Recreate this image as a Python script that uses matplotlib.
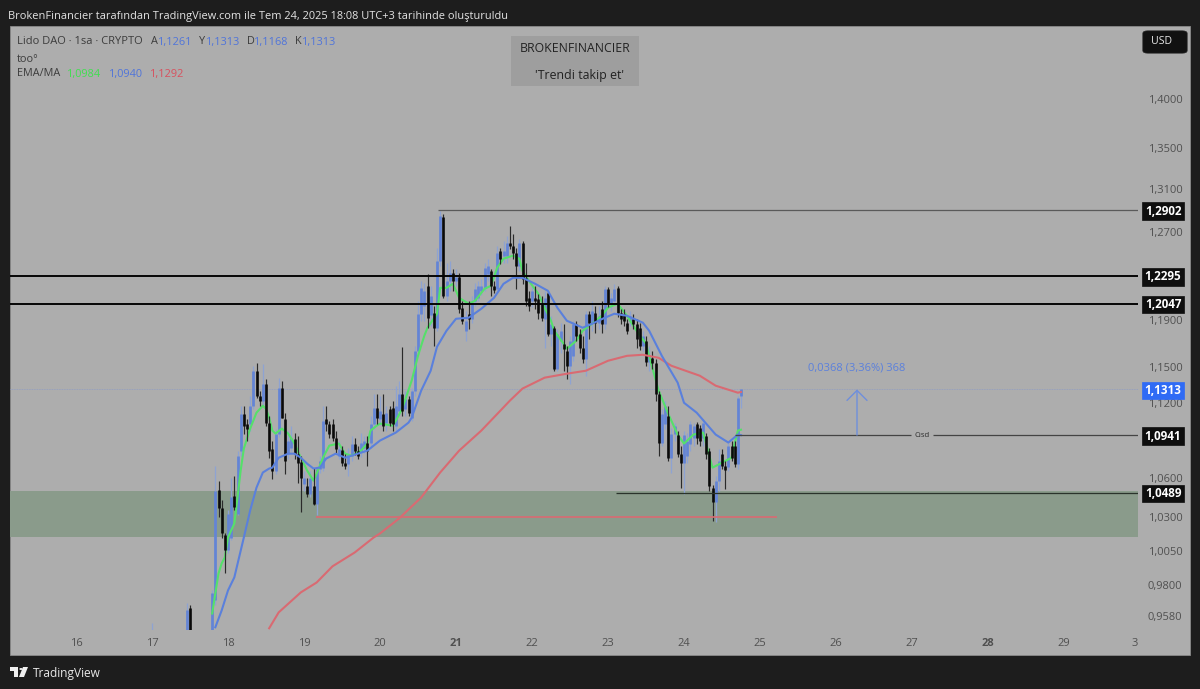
import numpy as np
import matplotlib
matplotlib.use("Agg")
import matplotlib.pyplot as plt
from matplotlib.patches import Rectangle, FancyBboxPatch, Polygon, Circle
from matplotlib.ticker import NullLocator, FixedLocator, FixedFormatter

plt.rcParams['font.family'] = ['Open Sans', 'DejaVu Sans']

W, H = 1200, 689
BG = '#1d1d1d'; PANE = '#adadad'; ZONE = '#8a9b8b'
UP = '#6384d6'; UPW = '#8ea3d2'; DOWN = '#0a0a0a'; DOWNW = '#2a2a2a'
EMA_C = '#55e06a'; MA_C = '#5a80dc'; RED_C = '#d96a72'; TICK_C = '#505050'

bar_hours = [-24, -13, -12, -5] + list(range(-4, 163))
opens = [.9414, .9414, .9636, .9414,
 .9693,1.0513,1.0368,1.0165,1.0054,1.0150,1.0467,1.0330,1.0817,1.1114,
 1.1033,1.1033,1.1179,1.1469,1.1261,1.1220,1.1361,1.1041,1.0833,1.0660,
 1.0953,1.1328,1.1073,1.0793,1.0841,1.0913,1.0793,1.0730,1.0559,1.0544,
 1.0482,1.0544,1.0406,1.0676,1.0683,1.1073,1.1033,1.1033,1.0921,1.0777,
 1.0825,1.0722,1.0714,1.0777,1.0873,1.0817,1.0817,1.0841,1.0881,1.0881,
 1.1033,1.1162,1.1073,1.1114,1.1041,1.1154,1.1162,1.1017,1.1138,1.1278,
 1.1154,1.1236,1.1081,1.1303,1.1638,1.1958,1.2028,1.2205,1.1949,1.1966,
 1.1836,1.2432,1.2839,1.2116,1.2250,1.2322,1.2250,1.2286,1.2011,1.1810,
 1.1958,1.1914,1.2072,1.2098,1.2161,1.2187,1.2313,1.2340,1.2205,1.2178,
 1.2523,1.2478,1.2478,1.2597,1.2569,1.2505,1.2386,1.2597,1.2277,1.2098,
 1.2072,1.2098,1.2089,1.2046,1.1914,1.2143,1.1784,1.1836,1.1486,1.1724,
 1.1698,1.1638,1.1511,1.1595,1.1871,1.1784,1.1664,1.1570,1.1958,1.1880,
 1.1966,1.1880,1.2002,1.1871,1.2178,1.2054,1.2072,1.2187,1.1966,1.1958,
 1.1880,1.1897,1.1914,1.1871,1.1836,1.1681,1.1724,1.1545,1.1578,1.1536,
 1.1278,1.0881,1.1033,1.1097,1.0761,1.0953,1.0945,1.0793,1.0722,1.0777,
 1.0873,1.0921,1.1033,1.1001,1.0921,1.0937,1.0817,1.0528,1.0414,1.0582,
 1.0793,1.0699,1.0691,1.0857,1.0857,1.0714,1.1261]
highs = [.9535, .9671, .9657, .9764,
 1.0699,1.0582,1.0429,1.0180,1.0353,1.0605,1.0621,1.0817,1.1179,1.1179,
 1.1073,1.1261,1.1511,1.1536,1.1303,1.1528,1.1403,1.1097,1.0897,1.0993,
 1.1411,1.1386,1.1122,1.0977,1.1017,1.0961,1.0937,1.0777,1.0660,1.0605,
 1.0660,1.0683,1.0699,1.0777,1.1179,1.1179,1.1057,1.1073,1.0977,1.0897,
 1.0857,1.0793,1.0841,1.0937,1.0921,1.0857,1.0961,1.0937,1.0937,1.1097,
 1.1278,1.1278,1.1261,1.1278,1.1179,1.1179,1.1220,1.1344,1.1386,1.1672,
 1.1303,1.1261,1.1328,1.1681,1.2072,1.2250,1.2232,1.2313,1.2205,1.2028,
 1.2551,1.2895,1.2867,1.2414,1.2432,1.2358,1.2358,1.2322,1.2072,1.1984,
 1.2072,1.2116,1.2232,1.2250,1.2268,1.2414,1.2451,1.2358,1.2250,1.2569,
 1.2551,1.2615,1.2661,1.2754,1.2680,1.2551,1.2634,1.2615,1.2414,1.2161,
 1.2205,1.2205,1.2134,1.2116,1.2161,1.2161,1.1940,1.1853,1.1827,1.1880,
 1.1871,1.1681,1.1767,1.1897,1.1897,1.1827,1.1767,1.1984,1.1984,1.2072,
 1.2028,1.2028,1.2072,1.2205,1.2196,1.2143,1.2223,1.2205,1.2002,1.2002,
 1.1914,1.1984,1.1958,1.1914,1.1880,1.1810,1.1767,1.1681,1.1638,1.1570,
 1.1303,1.1154,1.1220,1.1179,1.1001,1.1041,1.0977,1.0857,1.0977,1.0961,
 1.1057,1.1041,1.1049,1.1025,1.1073,1.0961,1.0841,1.0551,1.0621,1.0833,
 1.0833,1.0738,1.0881,1.0897,1.0897,1.1261,1.1313]
lows = [.9414, .9400, .9400, .9400,
 .9657,1.0300,1.0150,.9893,1.0039,1.0128,1.0353,1.0315,1.0777,1.0953,
 1.0897,1.0977,1.1154,1.1245,1.1179,1.1179,1.1017,1.0761,1.0598,1.0637,
 1.0929,1.1081,1.0637,1.0754,1.0817,1.0754,1.0567,1.0345,1.0505,1.0452,
 1.0452,1.0391,1.0315,1.0644,1.0660,1.0977,1.0921,1.0897,1.0801,1.0754,
 1.0699,1.0676,1.0621,1.0738,1.0785,1.0754,1.0769,1.0801,1.0699,1.0841,
 1.0993,1.1033,1.1025,1.0977,1.0977,1.1017,1.0977,1.0977,1.1097,1.1097,
 1.1097,1.1097,1.1057,1.1261,1.1595,1.1897,1.1897,1.1836,1.1853,1.1681,
 1.1810,1.2386,1.2098,1.2072,1.2161,1.2161,1.2205,1.1966,1.1871,1.1724,
 1.1827,1.1880,1.2028,1.2072,1.2125,1.2161,1.2250,1.2116,1.2143,1.2143,
 1.2405,1.2414,1.2414,1.2542,1.2450,1.2179,1.2340,1.2223,1.2028,1.1984,
 1.2019,1.2002,1.1914,1.1897,1.1664,1.1767,1.1681,1.1469,1.1469,1.1621,
 1.1469,1.1403,1.1361,1.1553,1.1724,1.1621,1.1536,1.1427,1.1741,1.1810,
 1.1793,1.1827,1.1793,1.1827,1.2019,1.1984,1.2037,1.1931,1.1871,1.1853,
 1.1784,1.1853,1.1827,1.1664,1.1647,1.1638,1.1511,1.1469,1.1486,1.1220,
 1.0777,1.0857,1.0993,1.0738,1.0644,1.0897,1.0769,1.0528,1.0482,1.0722,
 1.0817,1.0857,1.0873,1.0857,1.0857,1.0754,1.0505,1.0277,1.0263,1.0505,
 1.0676,1.0520,1.0660,1.0738,1.0691,1.0676,1.1162]
closes = [.9440, .9622, .9414, .9743,
 1.0505,1.0368,1.0180,1.0054,1.0330,1.0452,1.0376,1.0777,1.1114,1.1017,
 1.0993,1.1179,1.1469,1.1261,1.1220,1.1361,1.1041,1.0817,1.0660,1.0953,
 1.1328,1.1081,1.0738,1.0897,1.0921,1.0793,1.0722,1.0605,1.0605,1.0482,
 1.0605,1.0406,1.0676,1.0738,1.1057,1.1033,1.0953,1.0921,1.0833,1.0833,
 1.0722,1.0699,1.0793,1.0873,1.0817,1.0777,1.0881,1.0897,1.0817,1.1033,
 1.1162,1.1081,1.1138,1.1017,1.1122,1.1041,1.1033,1.1179,1.1278,1.1138,
 1.1236,1.1122,1.1303,1.1638,1.1958,1.2187,1.2161,1.1923,1.2116,1.1836,
 1.2432,1.2848,1.2116,1.2250,1.2322,1.2250,1.2286,1.2002,1.1897,1.1897,
 1.1914,1.2054,1.2178,1.2205,1.2205,1.2368,1.2386,1.2205,1.2170,1.2505,
 1.2450,1.2523,1.2597,1.2569,1.2505,1.2386,1.2597,1.2268,1.2072,1.2028,
 1.2161,1.2072,1.1966,1.1923,1.2098,1.1784,1.1871,1.1486,1.1784,1.1810,
 1.1655,1.1511,1.1724,1.1871,1.1767,1.1664,1.1570,1.1958,1.1880,1.1984,
 1.1880,1.1940,1.1871,1.2178,1.2054,1.2098,1.2178,1.1966,1.1914,1.1897,
 1.1810,1.1940,1.1871,1.1741,1.1681,1.1767,1.1545,1.1595,1.1536,1.1278,
 1.0881,1.1114,1.1179,1.0761,1.0953,1.1017,1.0793,1.0722,1.0945,1.0897,
 1.1033,1.1017,1.0921,1.0897,1.1041,1.0793,1.0544,1.0414,1.0582,1.0738,
 1.0699,1.0668,1.0857,1.0761,1.0714,1.1245,1.1313]

ema_hours = [-5,-3,-2,-1,0,2,3,4,5,7,9,11,12,13,14,15,17,19,21,23,25,27,28,30,32,35,37,39,42,44,45,47,48,52,53,55,58,60,62,63,66,67,69,71,73,76,78,81,83,85,87,90,92,93,95,98,100,102,103,106,107,110,112,115,118,120,123,126,129,132,134,136,139,142,144,147,150,151,153,156,159,160,161,162]
ema_vals = [.9600,.9886,.9959,1.0003,1.0150,1.0255,1.0452,1.0660,1.0833,1.0993,1.1122,1.1179,1.1154,1.1081,1.0977,1.0953,1.0993,1.0953,1.0873,1.0761,1.0660,1.0582,1.0637,1.0761,1.0857,1.0873,1.0793,1.0777,1.0817,1.0873,1.0977,1.1017,1.1033,1.1017,1.1057,1.1154,1.1386,1.1595,1.1767,1.1836,1.1958,1.2187,1.2187,1.2223,1.2098,1.2046,1.2072,1.2178,1.2205,1.2368,1.2450,1.2478,1.2450,1.2340,1.2250,1.2134,1.2011,1.1897,1.1810,1.1698,1.1655,1.1724,1.1810,1.1871,1.1940,1.2011,1.2046,1.1940,1.1810,1.1698,1.1494,1.1303,1.1114,1.0945,1.0873,1.0945,1.0961,1.0873,1.0683,1.0722,1.0761,1.0873,1.0977,1.0984]
ma_hours = [-4,-2,0,2,5,7,9,11,13,14,16,19,21,23,25,27,29,31,34,37,41,44,48,53,57,58,61,64,66,69,72,76,80,84,87,90,93,97,101,104,107,112,115,119,122,126,131,133,137,142,144,148,151,154,158,161,162]
ma_vals = [.9504,.9622,.9764,.9858,1.0150,1.0353,1.0528,1.0645,1.0676,1.0683,1.0761,1.0793,1.0793,1.0761,1.0714,1.0676,1.0683,1.0754,1.0793,1.0761,1.0793,1.0817,1.0897,1.0961,1.1041,1.1081,1.1303,1.1469,1.1672,1.1810,1.1914,1.1923,1.2002,1.2098,1.2223,1.2277,1.2277,1.2223,1.2161,1.2011,1.1897,1.1836,1.1871,1.1923,1.1958,1.1940,1.1880,1.1810,1.1595,1.1369,1.1203,1.1122,1.1033,1.0945,1.0881,1.0945,1.0940]
long_hours = [13,16,23,28,33,40,46,48,54,61,67,73,80,86,89,93,100,107,113,120,126,131,136,140,149,154,161,162]
long_vals = [.9497,.9608,.9750,.9821,.9938,1.0039,1.0150,1.0180,1.0292,1.0452,1.0645,1.0817,1.0977,1.1138,1.1220,1.1320,1.1411,1.1444,1.1469,1.1553,1.1595,1.1604,1.1578,1.1511,1.1427,1.1344,1.1286,1.1292]

price_ticks = [1.40, 1.35, 1.31, 1.27, 1.19, 1.15, 1.12, 1.06, 1.03, 1.005, .98, .958]
price_tick_labels = ['1,4000','1,3500','1,3100','1,2700','1,1900','1,1500','1,1200','1,0600','1,0300','1,0050','0,9800','0,9580']
day_ticks = [16,17,18,19,20,21,22,23,24,25,26,27,28,29,29.93]
day_labels = ['16','17','18','19','20','21','22','23','24','25','26','27','28','29','3']
bold_days = ['21','28']
level_tags = [1.2902, 1.2295, 1.2047, 1.0941, 1.0489]
level_tag_labels = ['1,2902','1,2295','1,2047','1,0941','1,0489']
last_price = 1.1313
red_level = 1.0303
zone_top, zone_bottom = 1.0500, 1.0153

def fx(x): return x / W
def fy(y): return 1 - y / H
def hour_to_day(h): return 18 + np.asarray(h, dtype=float) / 24
def px_to_day(x): return 18 + (x - 228) / 76

fig = plt.figure(figsize=(12, 6.89), dpi=100, facecolor=BG)
fig.add_artist(Rectangle((fx(10), fy(655)), fx(1180), 629 / H, transform=fig.transFigure,
                         fc=PANE, ec='#8a8a8a', lw=0.6, zorder=0))
ax = fig.add_axes([fx(10), fy(630), fx(1128), 604 / H], facecolor='none', zorder=2)
ax.set_yscale('log')
ax.set_xlim(px_to_day(10), px_to_day(1138))
ax.set_ylim(0.9485, 1.4764)
for s in ax.spines.values():
    s.set_visible(False)

o, h, l, c = map(np.array, (opens, highs, lows, closes))
t = hour_to_day(bar_hours)
up = c >= o

ax.axhspan(zone_bottom, zone_top, color=ZONE, lw=0, zorder=1)
ax.vlines(t[up], l[up], h[up], color=UPW, lw=0.95, zorder=2, capstyle='butt')
ax.vlines(t[up], o[up], c[up], color=UP, lw=1.95, zorder=2.1, capstyle='butt')
ax.plot(hour_to_day(ema_hours), ema_vals, color=EMA_C, lw=1.5, zorder=3)
ax.vlines(t[~up], l[~up], h[~up], color=DOWNW, lw=0.85, zorder=4, capstyle='butt')
ax.vlines(t[~up], o[~up], c[~up], color=DOWN, lw=1.9, zorder=4.1, capstyle='butt')
ax.plot(hour_to_day(long_hours), long_vals, color=RED_C, lw=1.5, zorder=5)
ax.plot(hour_to_day(ma_hours), ma_vals, color=MA_C, lw=1.5, zorder=5.5)

ax.hlines(1.2295, px_to_day(10), px_to_day(1138), color='#050505', lw=1.4, zorder=6)
ax.hlines(1.2047, px_to_day(10), px_to_day(1138), color='#050505', lw=1.4, zorder=6)
ax.hlines(1.2902, px_to_day(438), px_to_day(1138), color='#5a5a5a', lw=0.9, zorder=6)
ax.hlines(1.0941, px_to_day(735), px_to_day(911), color='#444444', lw=0.9, zorder=6)
ax.hlines(1.0941, px_to_day(933), px_to_day(1138), color='#444444', lw=0.9, zorder=6)
ax.hlines(1.0489, px_to_day(616), px_to_day(1138), color='#2a332b', lw=0.9, zorder=6)
ax.hlines(red_level, px_to_day(316), px_to_day(777), color=RED_C, lw=1.2, zorder=6)
ax.hlines(last_price, px_to_day(10), px_to_day(1138), color='#8e9cc4', lw=0.6,
          linestyles=(0, (1, 1)), zorder=1.5)
ax.text(px_to_day(922), 1.0941, 'Cısd', fontsize=5.6, color='#2a2a2a', ha='center', va='center', zorder=7)

ax.annotate('', xy=(px_to_day(857), 1.1313), xytext=(px_to_day(857), 1.0941),
            arrowprops=dict(arrowstyle='->,head_length=0.72,head_width=0.72', color='#6f8fdc', lw=1.0,
                            mutation_scale=10, shrinkA=0, shrinkB=0), zorder=6)
ax.text(px_to_day(857), 1.1490, '0,0368 (3,36%) 368', fontsize=8, color='#5b80dc', ha='center', va='center')

ax.yaxis.tick_right()
ax.yaxis.set_minor_locator(NullLocator())
ax.yaxis.set_major_locator(FixedLocator(price_ticks))
ax.yaxis.set_major_formatter(FixedFormatter(price_tick_labels))
ax.tick_params(axis='y', length=0, pad=7, labelsize=8, labelcolor=TICK_C)
ax.set_xticks(day_ticks)
ax.set_xticklabels(day_labels)
ax.tick_params(axis='x', length=0, pad=6, labelsize=8, labelcolor=TICK_C)
for lab in ax.get_xticklabels():
    if lab.get_text() in bold_days:
        lab.set_fontweight('bold')

yt = ax.get_yaxis_transform()
tag_x = (1163 - 10) / 1128
def price_tag(v, s, fc):
    ax.annotate(s, xy=(tag_x, v), xycoords=yt, xytext=(0, -1), textcoords='offset pixels',
                fontsize=8.4, color='white', fontweight='bold', ha='center', va='center',
                annotation_clip=False, zorder=9,
                bbox=dict(boxstyle='square,pad=0.2', fc=fc, ec=fc, lw=0.5))
for v, s in zip(level_tags, level_tag_labels):
    price_tag(v, s, '#0e0e0e')
price_tag(last_price, '1,1313', '#2f6bf5')

def ftext(x, y, s, **kw):
    kw.setdefault('fontsize', 8)
    kw.setdefault('va', 'center')
    return fig.text(fx(x), fy(y), s, zorder=10, **kw)

ftext(8, 16, 'BrokenFinancier tarafından TradingView.com ile Tem 24, 2025 18:08 UTC+3 tarihinde oluşturuldu',
      color='#e4e4e4', fontsize=7.95)
LEG = '#3c3c3c'; VAL = '#4f74da'
ftext(17, 42, 'Lido DAO · 1sa · CRYPTO', color=LEG, fontsize=8)
for x, s in [(151, 'A'), (199, 'Y'), (247, 'D'), (295, 'K')]:
    ftext(x, 42, s, color=LEG, fontsize=7.8)
for x, s in [(158, '1,1261'), (206, '1,1313'), (254, '1,1168'), (302, '1,1313')]:
    ftext(x, 42, s, color=VAL, fontsize=7.8)
ftext(17, 59, 'too°', color=LEG, fontsize=7.8)
ftext(17, 74, 'EMA/MA', color=LEG, fontsize=7.8)
ftext(67, 74, '1,0984', color='#3fe04f', fontsize=7.8)
ftext(109, 74, '1,0940', color=VAL, fontsize=7.8)
ftext(150, 74, '1,1292', color='#d8505e', fontsize=7.8)

fig.add_artist(Rectangle((fx(511), fy(86)), fx(128), 50 / H, transform=fig.transFigure, fc='#9e9e9e', ec='none', zorder=3))
ftext(575, 48, 'BROKENFINANCIER', color='#222222', fontsize=8.8, ha='center')
ftext(580, 76, "'Trendi takip et'", color='#222222', fontsize=8.9, ha='center')

fig.add_artist(FancyBboxPatch((fx(1145), fy(52)), fx(40), 20 / H, transform=fig.transFigure,
                              boxstyle='round,pad=0.0018,rounding_size=0.004', fc='#111111', ec='#222222', lw=0.5,
                              mutation_aspect=H / W * 1.6, zorder=3))
ftext(1161, 42, 'USD', color='#e8e8e8', fontsize=7.6, ha='center')

LOGO = '#f0f0f0'
for pts in ([(10, 667), (18, 667), (18, 677), (14, 677), (14, 671), (10, 671)],
            [(23, 667), (28, 667), (24, 677), (19, 677)]):
    fig.add_artist(Polygon([(fx(a), fy(b)) for a, b in pts], transform=fig.transFigure, fc=LOGO, ec='none', zorder=5))
fig.add_artist(Circle((fx(21), fy(669)), 1.7 / W, transform=fig.transFigure, fc=LOGO, ec='none', zorder=5))
ftext(33, 673, 'TradingView', color='#e8e8e8', fontsize=8.6)

fig.savefig('out.png', dpi=100, facecolor=BG)
